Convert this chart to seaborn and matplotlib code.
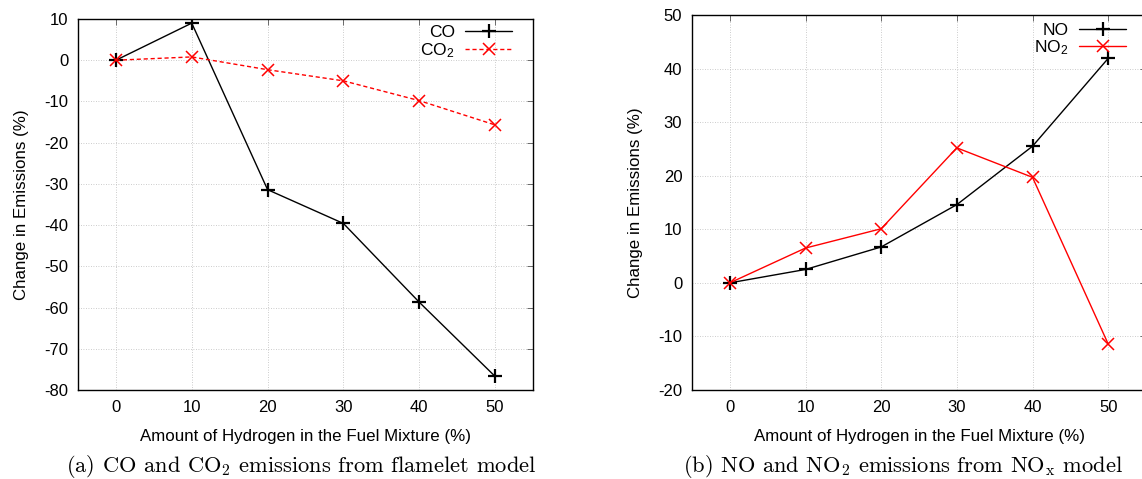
import matplotlib
matplotlib.use("Agg")
import matplotlib.pyplot as plt
import seaborn as sns
import pandas as pd

hydrogen = [0, 10, 20, 30, 40, 50]
co = [0.0, 9.0, -31.4, -39.6, -58.7, -76.7]
co2 = [0.0, 0.8, -2.3, -5.0, -9.8, -15.7]
no = [0.0, 2.5, 6.7, 14.6, 25.5, 41.9]
no2 = [0.0, 6.5, 10.1, 25.2, 19.7, -11.4]

xticks = [0, 10, 20, 30, 40, 50]
yticks_a = list(range(-80, 11, 10))
yticks_b = list(range(-20, 51, 10))

sns.set_theme(style="white")
plt.rcParams["font.family"] = ["Liberation Sans", "DejaVu Sans"]
plt.rcParams["mathtext.fontset"] = "custom"
plt.rcParams["mathtext.rm"] = "Liberation Sans"
plt.rcParams["mathtext.it"] = "Liberation Sans:italic"
plt.rcParams["axes.unicode_minus"] = False
plt.rcParams["text.color"] = "black"
plt.rcParams["axes.labelcolor"] = "black"

fig = plt.figure(figsize=(11.42, 4.79), dpi=100)
ax1 = fig.add_axes([78/1142, 89/479, (533-78)/1142, (390-19)/479])
ax2 = fig.add_axes([692/1142, 89/479, (1146-692)/1142, (390-15)/479])

df_a = pd.DataFrame({"x": hydrogen, "CO": co, "CO2": co2})
df_b = pd.DataFrame({"x": hydrogen, "NO": no, "NO2": no2})

sns.lineplot(data=df_a, x="x", y="CO", ax=ax1, color="black", lw=1,
             marker="+", markersize=10, markeredgewidth=1.6, markeredgecolor="black",
             label="CO")
sns.lineplot(data=df_a, x="x", y="CO2", ax=ax1, color="red", lw=1, linestyle=(0, (3, 2)),
             marker="x", markersize=9, markeredgewidth=1.1, markeredgecolor="red",
             label="CO$_2$")
sns.lineplot(data=df_b, x="x", y="NO", ax=ax2, color="black", lw=1,
             marker="+", markersize=10, markeredgewidth=1.6, markeredgecolor="black",
             label="NO")
sns.lineplot(data=df_b, x="x", y="NO2", ax=ax2, color="red", lw=1,
             marker="x", markersize=9, markeredgewidth=1.1, markeredgecolor="red",
             label="NO$_2$")

legend_anchor = {ax1: (0.954, 0.984), ax2: (0.956, 0.98)}
for ax, yt, lim in [(ax1, yticks_a, (-80, 10)), (ax2, yticks_b, (-20, 50))]:
    ax.set_xlim(-5, 55)
    ax.set_ylim(*lim)
    ax.set_xticks(xticks)
    ax.set_yticks(yt)
    ax.tick_params(axis="both", direction="in", length=4, width=0.6, color="#555555",
                   top=True, right=True, labelsize=12, pad=7, labelcolor="black")
    ax.grid(True, color="#bbbbbb", linestyle=(0, (1, 2)), linewidth=0.6)
    for s in ax.spines.values():
        s.set_color("black")
        s.set_linewidth(1.0)
        s.set_visible(True)
    ax.set_xlabel("Amount of Hydrogen in the Fuel Mixture (%)", fontsize=12.2, labelpad=10,
                  color="black")
    ax.set_ylabel("Change in Emissions (%)", fontsize=12.2, labelpad=11, color="black")
    ax.legend(loc="upper right", bbox_to_anchor=legend_anchor[ax], frameon=False,
              markerfirst=False, fontsize=12.5, handlelength=2.7, borderaxespad=0,
              borderpad=0, labelspacing=0.05, handletextpad=0.6, labelcolor="black")

fig.text(301/1142, 1 - 466/479, "(a) CO and CO$_2$ emissions from flamelet model",
         ha="center", va="center", fontsize=16.2, family="cmr10", math_fontfamily="cm",
         color="black")
fig.text(903/1142, 1 - 466/479, "(b) NO and NO$_2$ emissions from NO$_\\mathrm{x}$ model",
         ha="center", va="center", fontsize=16.2, family="cmr10", math_fontfamily="cm",
         color="black")

fig.savefig("out.png", dpi=100)
